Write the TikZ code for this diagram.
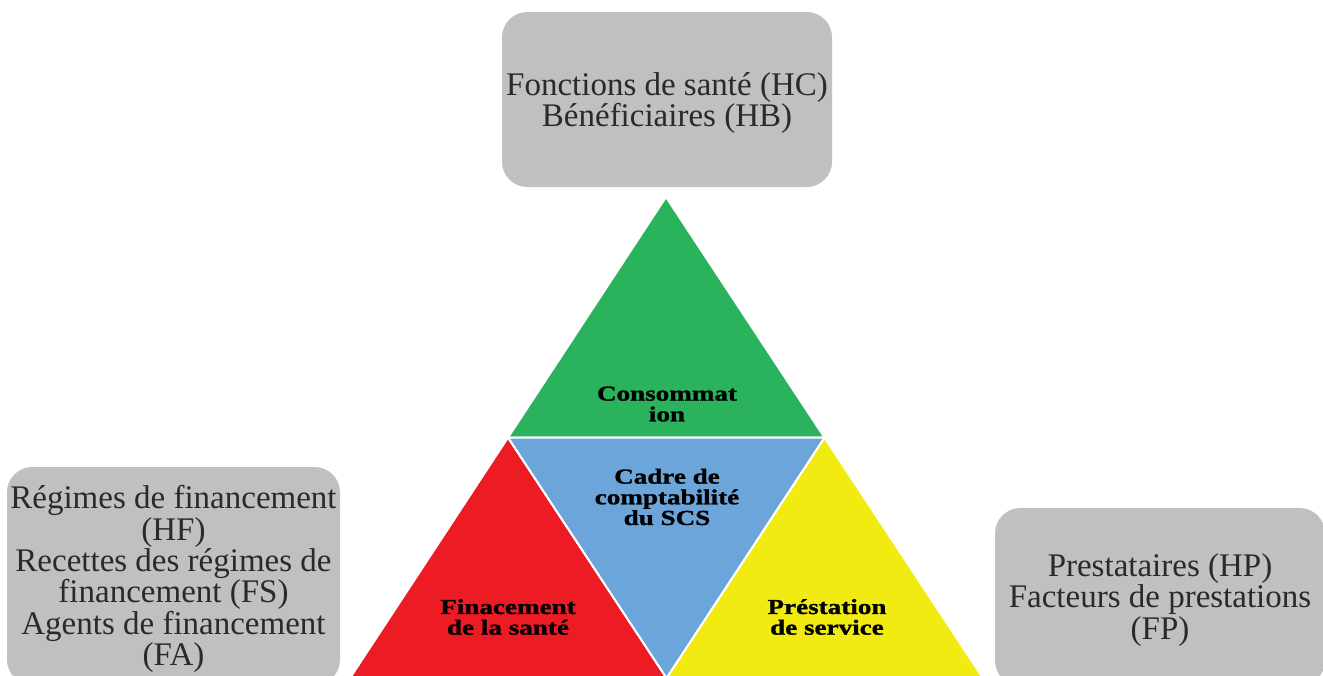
\documentclass[tikz,border=0pt]{standalone}
\usepackage{fontspec}
\setmainfont{Liberation Serif}
\newfontfamily\trifont[FakeStretch=1.27,FakeBold=1.2]{Liberation Serif}
\definecolor{boxgray}{HTML}{BFC0C0}
\definecolor{boxink}{HTML}{2A2A2A}
\definecolor{consgreen}{HTML}{2AB35C}
\definecolor{finred}{HTML}{ED1C24}
\definecolor{cadreblue}{HTML}{6BA5D9}
\definecolor{prestyellow}{HTML}{F2EB11}
\begin{document}
\begin{tikzpicture}[x=0.75pt,y=-0.75pt,
  infobox/.style={fill=boxgray, rounded corners=19pt, inner sep=0pt},
  boxlabel/.style={text=boxink, align=center, inner sep=0pt,
    font=\fontsize{24.75}{23.5}\selectfont},
  tritext/.style={align=center, text=black,
    font=\trifont\bfseries\fontsize{16}{15.5}\selectfont},
  facet/.style={draw=white, line width=1.5pt, line join=miter}]
\clip (0,0) rectangle (1323,675);
\fill[white] (0,0) rectangle (1323,675);

% corners of the large triangle and the midpoints of its sides
\coordinate (apex) at (666,197);
\coordinate (bl) at (350,678);
\coordinate (br) at (983,678);
\coordinate (ml) at (508,437.5);
\coordinate (mr) at (824.5,437.5);
\coordinate (mb) at (666.5,678);

% the four facets
\filldraw[facet, fill=consgreen] (apex) -- (ml) -- (mr) -- cycle;
\filldraw[facet, fill=finred] (ml) -- (bl) -- (mb) -- cycle;
\filldraw[facet, fill=prestyellow] (mr) -- (mb) -- (br) -- cycle;
\filldraw[facet, fill=cadreblue] (ml) -- (mr) -- (mb) -- cycle;

\node[tritext] (cons) at (667,404) {Consommat\\ion};
\node[tritext] (cadre) at (667,497) {Cadre de\\comptabilité\\du SCS};
\node[tritext] (fin) at (508,617) {Finacement\\de la santé};
\node[tritext] (prest) at (827,617) {Préstation\\de service};

% classification boxes
\node[infobox, minimum width=247.5pt, minimum height=131.25pt] (hc) at (667,99.5) {};
\node[infobox, minimum width=249.75pt, minimum height=163.5pt] (hf) at (173.5,576) {};
\node[infobox, minimum width=247.5pt, minimum height=133.5pt] (hp) at (1160,597) {};

\node[boxlabel] (hctext) at (667,103)
  {Fonctions de santé (HC)\\Bénéficiaires (HB)};
\node[boxlabel] (hftext) at (173.5,579)
  {Régimes de financement\\(HF)\\Recettes des régimes de\\financement (FS)\\Agents de financement\\(FA)};
\node[boxlabel] (hptext) at (1160,600)
  {Prestataires (HP)\\Facteurs de prestations\\(FP)};
\end{tikzpicture}
\end{document}
